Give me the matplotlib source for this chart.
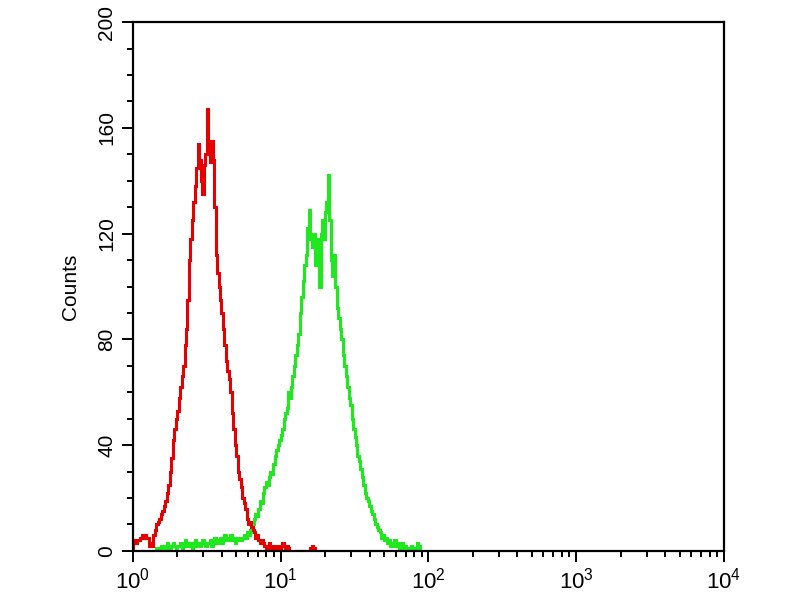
import numpy as np
import matplotlib
matplotlib.use('Agg')
import matplotlib.pyplot as plt
from matplotlib.ticker import MultipleLocator, LogLocator

plt.rcParams['font.family'] = ['Liberation Sans', 'DejaVu Sans']

# histogram channels, 0.01 decade wide, starting at 10^0
bin_step = 0.01

# red population (control), counts per channel from 10^0.00
red_counts = [4, 4, 3, 4, 4, 5, 6, 5, 6, 5, 5, 2, 3, 2, 6, 8, 10, 11, 12, 14,
              15, 17, 19, 22, 25, 30, 35, 42, 46, 50, 53, 58, 62, 66, 70, 78, 84, 95, 110, 118,
              125, 132, 138, 145, 154, 148, 140, 135, 146, 150, 167, 150, 147, 155, 148, 130, 112, 105, 100, 95,
              90, 84, 78, 72, 68, 65, 60, 52, 46, 40, 36, 30, 27, 24, 20, 18, 16, 12, 10, 11,
              9, 8, 7, 5, 6, 4, 3, 4, 3, 2, 1, 2, 3, 1, 2, 1, 2, 1, 2, 1,
              2, 3, 2, 1, 2, 1, 0, 0, 0, 0, 0, 0, 0, 0, 0, 0, 0, 0, 0, 0,
              1, 2, 1, 0, 0]

# green population (stained), counts per channel from 10^0.15
green_start = 0.15
green_counts = [0, 1, 0, 1, 2, 1, 2, 1, 3, 2, 1, 2, 3, 2, 1, 2, 2, 3, 1, 2,
                4, 3, 2, 3, 2, 1, 3, 4, 2, 3, 2, 3, 4, 3, 2, 3, 3, 4, 2, 3,
                5, 4, 3, 4, 5, 3, 4, 6, 5, 4, 5, 6, 4, 5, 3, 5, 4, 5, 4, 5,
                6, 5, 7, 6, 8, 7, 10, 12, 14, 13, 16, 19, 18, 22, 24, 26, 25, 28, 30, 29,
                33, 36, 38, 40, 42, 44, 46, 50, 52, 54, 60, 58, 62, 66, 70, 74, 78, 82, 90, 96,
                102, 108, 112, 122, 129, 118, 115, 120, 108, 118, 112, 100, 120, 125, 118, 128, 132, 142, 125, 110,
                104, 112, 100, 92, 88, 84, 80, 74, 70, 66, 62, 58, 55, 50, 46, 43, 40, 36, 34, 31,
                28, 25, 22, 20, 19, 17, 15, 14, 12, 10, 9, 8, 7, 5, 6, 4, 5, 3, 4, 2,
                3, 2, 4, 2, 3, 1, 2, 3, 1, 2, 0, 1, 0, 2, 1, 0, 0, 3, 2, 0]

y_ticks = [0, 40, 80, 120, 160, 200]

fig = plt.figure(figsize=(8, 6), dpi=100)
ax = fig.add_axes([0.166, 0.082, 0.739, 0.881])

red_edges = 10 ** (np.arange(len(red_counts) + 1) * bin_step)
green_edges = 10 ** (green_start + np.arange(len(green_counts) + 1) * bin_step)

ax.stairs(green_counts, green_edges, color='#1fe81f', linewidth=2.2)
ax.stairs(red_counts, red_edges, color='#e60000', linewidth=2.2)

ax.set_xscale('log')
ax.set_xlim(1, 1e4)
ax.set_ylim(0, 200)
ax.set_yticks(y_ticks)
ax.yaxis.set_minor_locator(MultipleLocator(10))
ax.xaxis.set_major_locator(LogLocator(base=10))
ax.xaxis.set_minor_locator(LogLocator(base=10, subs=np.arange(2, 10)))

for s in ax.spines.values():
    s.set_linewidth(1.6)
ax.tick_params(which='major', direction='out', length=8, width=1.4)
ax.tick_params(which='minor', direction='out', length=4, width=1.4)
ax.tick_params(axis='x', which='major', labelsize=16, pad=4)
ax.tick_params(axis='y', which='major', labelsize=15, pad=4)
for lab in ax.get_yticklabels():
    lab.set_rotation(90)
    lab.set_va('center')

ax.set_ylabel('Counts', fontsize=15, labelpad=12)

fig.savefig('out.png', dpi=100, facecolor='white')
